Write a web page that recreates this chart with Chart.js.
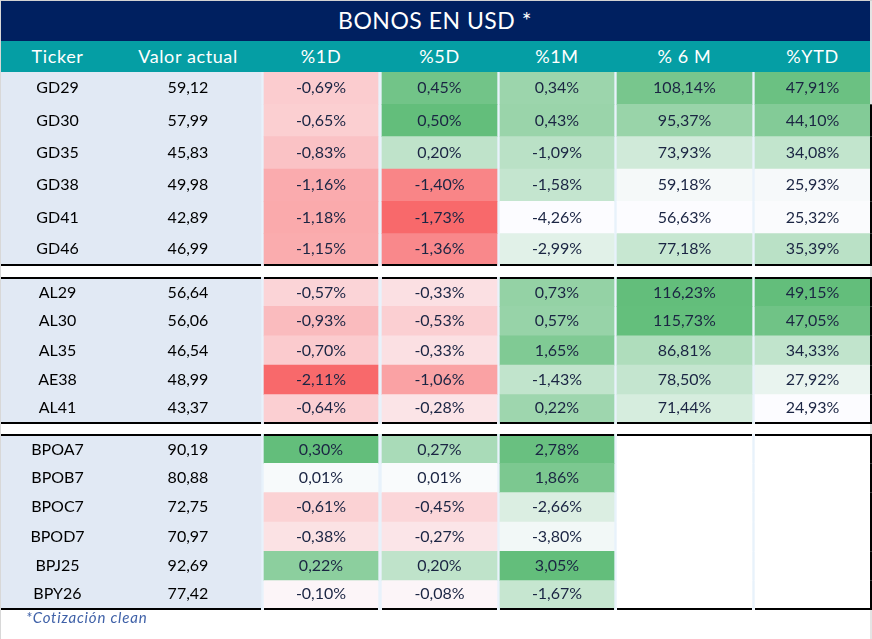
<!DOCTYPE html>
<html lang="es">
<head>
<meta charset="utf-8">
<title>Bonos en USD</title>
<script src="https://cdn.jsdelivr.net/npm/chart.js@4.4.1/dist/chart.umd.min.js"></script>
<style>
  html, body { margin: 0; padding: 0; background: #fff; }
  body { width: 872px; height: 639px; position: relative; overflow: hidden; font-family: Lato, "Noto Sans", sans-serif; }
  .borde-der { position: absolute; left: 870px; top: 0; width: 2px; height: 639px; background: #e4e4e4; }
  .borde-sup { position: absolute; left: 0; top: 0; width: 872px; height: 1px; background: #d2d2d2; z-index: 5; }
  .borde-izq { position: absolute; left: 0; top: 0; width: 1px; height: 639px; background: #d8d8d8; z-index: 5; }
  .titulo { position: absolute; left: 0; top: 1px; width: 870px; height: 40px; background: #002060; color: #fff;
            font-size: 23px; text-align: center; line-height: 38px; letter-spacing: 0.5px; }
  .cabecera { position: absolute; left: 0; top: 41px; width: 870px; height: 31px; background: #059ea4; }
  .cabecera span { position: absolute; top: 0; line-height: 31px; color: #fff; font-size: 18px; letter-spacing: 0.6px;
                   transform: translateX(-50%); white-space: nowrap; }
  .grupo { position: absolute; left: 0; width: 872px; background: #e8f2fb; }
  .grupo canvas { display: block; }
  .nota { position: absolute; left: 26px; top: 608px; font-size: 15px; letter-spacing: 0.8px; font-style: italic; color: #3f61a8; }
</style>
</head>
<body>
<div class="borde-der"></div>
<div class="borde-sup"></div>
<div class="borde-izq"></div>
<div class="titulo">BONOS EN USD *</div>
<div class="cabecera" id="cabecera"></div>
<div class="grupo" style="top:72px;height:194px"><canvas id="grupo1" width="872" height="194"></canvas></div>
<div class="grupo" style="top:277px;height:147px"><canvas id="grupo2" width="872" height="147"></canvas></div>
<div class="grupo" style="top:434px;height:176px"><canvas id="grupo3" width="872" height="176"></canvas></div>
<div class="nota">*Cotización clean</div>

<script>
// Encabezados de la tabla
const encabezados = ['Ticker', 'Valor actual', '%1D', '%5D', '%1M', '% 6 M', '%YTD'];

// Bonos soberanos ley NY
const tickersGD = ['GD29', 'GD30', 'GD35', 'GD38', 'GD41', 'GD46'];
const precioGD = [59.12, 57.99, 45.83, 49.98, 42.89, 46.99];
const var1dGD = [-0.69, -0.65, -0.83, -1.16, -1.18, -1.15];
const var5dGD = [0.45, 0.50, 0.20, -1.40, -1.73, -1.36];
const var1mGD = [0.34, 0.43, -1.09, -1.58, -4.26, -2.99];
const var6mGD = [108.14, 95.37, 73.93, 59.18, 56.63, 77.18];
const varYtdGD = [47.91, 44.10, 34.08, 25.93, 25.32, 35.39];

// Bonos ley local
const tickersAL = ['AL29', 'AL30', 'AL35', 'AE38', 'AL41'];
const precioAL = [56.64, 56.06, 46.54, 48.99, 43.37];
const var1dAL = [-0.57, -0.93, -0.70, -2.11, -0.64];
const var5dAL = [-0.33, -0.53, -0.33, -1.06, -0.28];
const var1mAL = [0.73, 0.57, 1.65, -1.43, 0.22];
const var6mAL = [116.23, 115.73, 86.81, 78.50, 71.44];
const varYtdAL = [49.15, 47.05, 34.33, 27.92, 24.93];

// BOPREAL
const tickersBP = ['BPOA7', 'BPOB7', 'BPOC7', 'BPOD7', 'BPJ25', 'BPY26'];
const precioBP = [90.19, 80.88, 72.75, 70.97, 92.69, 77.42];
const var1dBP = [0.30, 0.01, -0.61, -0.38, 0.22, -0.10];
const var5dBP = [0.27, 0.01, -0.45, -0.27, 0.20, -0.08];
const var1mBP = [2.78, 1.86, -2.66, -3.80, 3.05, -1.67];
const var6mBP = [null, null, null, null, null, null];
const varYtdBP = [null, null, null, null, null, null];

// Layout de columnas (en px del eje x)
const colTicker = [0, 115];
const colValor = [115, 261];
const colVars = [[264, 378], [382, 497], [500, 614], [617, 752], [755, 870]];
// escala de color: 'tri' = rojo/blanco/verde con punto medio 0, 'bi' = blanco/verde
const escalas = ['tri', 'tri', 'bi', 'bi', 'bi'];

const grupos = [
    { id: 'grupo1', tickers: tickersGD, precio: precioGD, vars: [var1dGD, var5dGD, var1mGD, var6mGD, varYtdGD], bordeSup: false },
    { id: 'grupo2', tickers: tickersAL, precio: precioAL, vars: [var1dAL, var5dAL, var1mAL, var6mAL, varYtdAL], bordeSup: true },
    { id: 'grupo3', tickers: tickersBP, precio: precioBP, vars: [var1dBP, var5dBP, var1mBP, var6mBP, varYtdBP], bordeSup: true }
];

const ROJO = [248, 105, 107];
const BLANCO = [252, 252, 255];
const VERDE = [99, 190, 123];

function mezcla(a, b, t) {
    const c = a.map((v, i) => Math.round(v + (b[i] - v) * t));
    return `rgb(${c[0]}, ${c[1]}, ${c[2]})`;
}

// min / max por columna, sobre los tres grupos
const rangos = escalas.map((e, k) => {
    const vals = grupos.flatMap(g => g.vars[k]).filter(v => v !== null);
    return { min: Math.min(...vals), max: Math.max(...vals) };
});

function colorCelda(v, k) {
    if (v === null) return '#ffffff';
    const r = rangos[k];
    if (escalas[k] === 'tri') {
        return v >= 0 ? mezcla(BLANCO, VERDE, v / r.max) : mezcla(BLANCO, ROJO, v / r.min);
    }
    return mezcla(BLANCO, VERDE, (v - r.min) / (r.max - r.min));
}

function fmt(num) {
    return Number(num).toLocaleString('es-AR', { minimumFractionDigits: 2, maximumFractionDigits: 2 });
}

// Encabezado
const cab = document.getElementById('cabecera');
[colTicker, colValor, ...colVars].forEach((c, i) => {
    const s = document.createElement('span');
    s.textContent = encabezados[i];
    s.style.left = ((c[0] + c[1]) / 2) + 'px';
    cab.appendChild(s);
});

// Bordes negros y textos de las celdas
const textoCeldas = {
    id: 'textoCeldas',
    afterDatasetsDraw(chart, args, opts) {
        const g = opts.grupo;
        const n = g.tickers.length;
        const ctx = chart.ctx;
        const x = chart.scales.x;
        const ajuste = i => (i === 0 && g.bordeSup ? 1 : 0) - (i === n - 1 ? 1 : 0);
        ctx.save();

        // bordes superior / inferior del bloque y borde derecho
        chart.data.datasets.forEach((ds, k) => {
            chart.getDatasetMeta(k).data.forEach((bar, i) => {
                const p = bar.getProps(['x', 'y', 'base', 'height'], true);
                const izq = Math.min(p.x, p.base);
                const ancho = Math.abs(p.x - p.base);
                const arriba = p.y - p.height / 2;
                const abajo = p.y + p.height / 2;
                ctx.fillStyle = '#000';
                if (i === 0 && g.bordeSup) ctx.fillRect(izq, arriba, ancho, 2);
                if (i === n - 1) ctx.fillRect(izq, abajo - 2, ancho, 2);
                if (k === chart.data.datasets.length - 1) {
                    ctx.fillStyle = (g.id === 'grupo1' && i === 0) ? '#e4e4e4' : '#000';
                    ctx.fillRect(x.getPixelForValue(870), arriba, 2, p.height);
                }
            });
        });

        ctx.textAlign = 'center';
        ctx.textBaseline = 'middle';
        ctx.font = '16px Lato';
        chart.getDatasetMeta(0).data.forEach((bar, i) => {
            const y = bar.y + ajuste(i);
            ctx.fillStyle = '#000';
            ctx.fillText(g.tickers[i], x.getPixelForValue((colTicker[0] + colTicker[1]) / 2), y);
            ctx.fillText(fmt(g.precio[i]), x.getPixelForValue((colValor[0] + colValor[1]) / 2), y);
        });
        g.vars.forEach((serie, k) => {
            chart.getDatasetMeta(k + 1).data.forEach((bar, i) => {
                if (serie[i] === null) return;
                const c = bar.getCenterPoint();
                ctx.fillStyle = '#1b2543';
                ctx.fillText(fmt(serie[i]) + '%', c.x, c.y + ajuste(i));
            });
        });
        ctx.restore();
    }
};

grupos.forEach(g => {
    const datasets = [{
        label: 'Ticker',
        data: g.tickers.map(() => [colTicker[0], colValor[1]]),
        backgroundColor: '#e1e9f4'
    }];
    g.vars.forEach((serie, k) => {
        datasets.push({
            label: encabezados[k + 2],
            data: serie.map(() => colVars[k]),
            backgroundColor: serie.map(v => colorCelda(v, k))
        });
    });

    new Chart(document.getElementById(g.id).getContext('2d'), {
        type: 'bar',
        data: { labels: g.tickers, datasets },
        options: {
            indexAxis: 'y',
            responsive: false,
            animation: false,
            events: [],
            layout: { padding: 0 },
            datasets: {
                bar: {
                    grouped: false,
                    categoryPercentage: 1,
                    barPercentage: 1,
                    borderWidth: 0,
                    borderSkipped: false
                }
            },
            scales: {
                x: { type: 'linear', min: 0, max: 872, display: false },
                y: { type: 'category', display: false }
            },
            plugins: {
                legend: { display: false },
                tooltip: { enabled: false },
                textoCeldas: { grupo: g }
            }
        },
        plugins: [textoCeldas]
    });
});
</script>
</body>
</html>
